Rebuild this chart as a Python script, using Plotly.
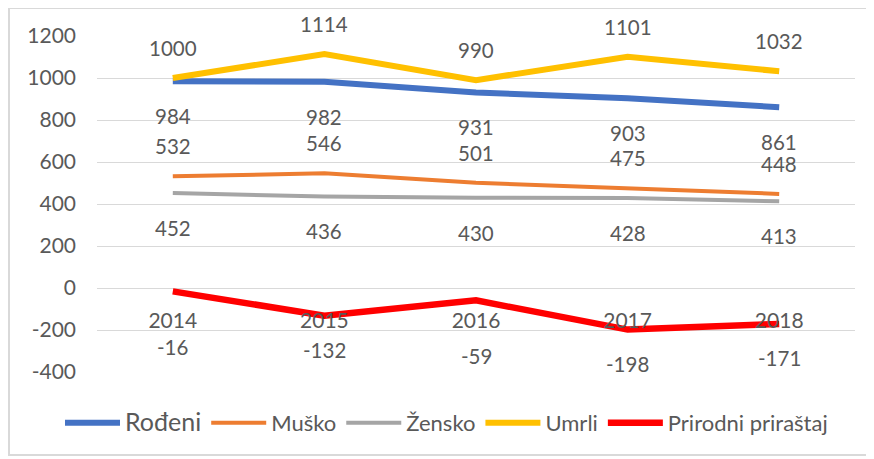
import plotly.graph_objects as go

# data
years = ["2014", "2015", "2016", "2017", "2018"]
rodeni = [984, 982, 931, 903, 861]
musko = [532, 546, 501, 475, 448]
zensko = [452, 436, 430, 428, 413]
umrli = [1000, 1114, 990, 1101, 1032]
prirast = [-16, -132, -59, -198, -171]
y_ticks = [-400, -200, 0, 200, 400, 600, 800, 1000, 1200]

LABEL_COLOR = "#595959"
FONT = "Lato, Open Sans, Arial, sans-serif"

# name, values, colour, width, label shift in px (+ above, - below)
series = [
    ("<span style='font-size:25px'>Rođeni</span>", rodeni, "#4472C4", 6, -35),
    ("Muško", musko, "#ED7D31", 4, 30),
    ("Žensko", zensko, "#A5A5A5", 4, -35),
    ("Umrli", umrli, "#FFC000", 6, 30),
    ("Prirodni priraštaj", prirast, "#FF0000", 6.5, -34),
]

fig = go.Figure()
annotations = []
for name, vals, color, width, shift in series:
    fig.add_trace(
        go.Scatter(
            x=years,
            y=vals,
            mode="lines",
            name=name,
            line=dict(color=color, width=width),
        )
    )
    for i, v in enumerate(vals):
        s = shift
        # labels close to the category axis get pushed below it
        if vals is prirast and v > -100:
            s = -56
        annotations.append(
            dict(
                x=i, y=v, xref="x", yref="y", text=str(v), showarrow=False, yshift=s,
                font=dict(family=FONT, size=20.5, color=LABEL_COLOR),
            )
        )

# page has an 8px body margin, so figure coords = picture coords - 8
OFF = 8
W, H = 874 - OFF, 459 - OFF
l, t = 97 - OFF, 36 - OFF
r = W - (855 - OFF)
b = H - (372 - OFF)
pw, ph = W - l - r, H - t - b


def px_x(x):
    return (x - OFF - l) / pw


def px_y(y):
    return (H - b - (y - OFF)) / ph


fig.update_layout(
    width=W,
    height=H,
    margin=dict(l=l, r=r, t=t, b=b),
    paper_bgcolor="white",
    plot_bgcolor="white",
    font=dict(family=FONT, size=21, color=LABEL_COLOR),
    showlegend=True,
    legend=dict(
        orientation="h",
        x=px_x(60),
        xanchor="left",
        y=px_y(423),
        yanchor="middle",
        font=dict(family=FONT, size=22, color=LABEL_COLOR),
        itemwidth=55,
        tracegroupgap=0,
    ),
    annotations=annotations,
    shapes=[
        dict(
            type="rect", xref="paper", yref="paper",
            x0=px_x(9), x1=px_x(873),
            y0=px_y(455), y1=px_y(8),
            line=dict(color="#D9D9D9", width=2),
            layer="below",
        )
    ],
)

fig.update_yaxes(
    range=[-400, 1200],
    tickvals=y_ticks,
    ticktext=[str(v) for v in y_ticks],
    showgrid=True,
    gridcolor="#D9D9D9",
    gridwidth=1,
    zeroline=False,
    showline=False,
    ticklabelstandoff=20,
    tickfont=dict(family=FONT, size=21, color=LABEL_COLOR),
)
fig.update_xaxes(
    range=[-0.5, 4.5],
    showgrid=False,
    zeroline=False,
    showline=False,
    anchor="free",
    position=400 / 1600,
    ticklabelstandoff=18,
    tickfont=dict(family=FONT, size=21, color=LABEL_COLOR),
)

fig.write_html("out.html")
